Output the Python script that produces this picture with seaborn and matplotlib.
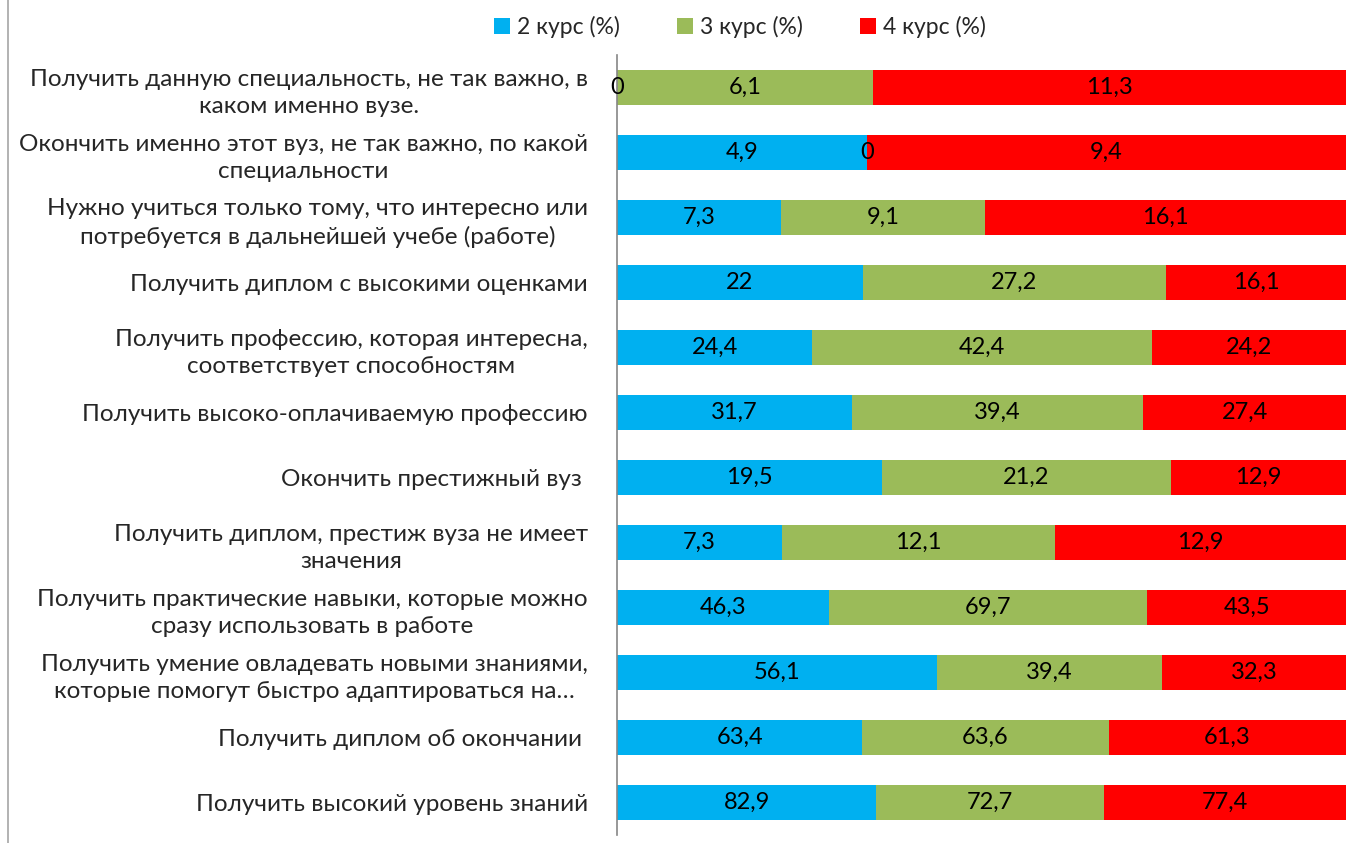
import numpy as np
import pandas as pd
import matplotlib
matplotlib.use("Agg")
import matplotlib.pyplot as plt
import seaborn as sns
from matplotlib.patches import Patch
from matplotlib.lines import Line2D

labels = [
    "Получить данную специальность, не так важно, в\nкаком именно вузе.",
    "Окончить именно этот вуз, не так важно, по какой\nспециальности",
    "Нужно учиться только тому, что интересно или\nпотребуется в дальнейшей учебе (работе)",
    "Получить диплом с высокими оценками",
    "Получить профессию, которая интересна,\nсоответствует способностям",
    "Получить высоко-оплачиваемую профессию",
    "Окончить престижный вуз ",
    "Получить диплом, престиж вуза не имеет\nзначения",
    "Получить практические навыки, которые можно\nсразу использовать в работе",
    "Получить умение овладевать новыми знаниями,\nкоторые помогут быстро адаптироваться на…",
    "Получить диплом об окончании ",
    "Получить высокий уровень знаний",
]
kurs2 = [0, 4.9, 7.3, 22, 24.4, 31.7, 19.5, 7.3, 46.3, 56.1, 63.4, 82.9]
kurs3 = [6.1, 0, 9.1, 27.2, 42.4, 39.4, 21.2, 12.1, 69.7, 39.4, 63.6, 72.7]
kurs4 = [11.3, 9.4, 16.1, 16.1, 24.2, 27.4, 12.9, 12.9, 43.5, 32.3, 61.3, 77.4]
series = ["2 курс (%)", "3 курс (%)", "4 курс (%)"]
colors = ["#00B0F0", "#9BBB59", "#FF0000"]

sns.set_style("white")
plt.rcParams["font.family"] = ["Lato", "DejaVu Sans"]

df = pd.DataFrame({"label": labels, "k2": kurs2, "k3": kurs3, "k4": kurs4})
tot = df[["k2", "k3", "k4"]].sum(axis=1)
df["s2"] = df["k2"] / tot * 100
df["s3"] = df["k3"] / tot * 100
df["s4"] = df["k4"] / tot * 100
df["c2"] = df["s2"]
df["c3"] = df["s2"] + df["s3"]
df["c4"] = df["c3"] + df["s4"]

fig = plt.figure(figsize=(13.46, 8.43), dpi=100)
ax = fig.add_axes([617 / 1346, 8 / 843, 729 / 1346, 780 / 843])

# stacked via overlapping cumulative bars
for col, c in [("c4", colors[2]), ("c3", colors[1]), ("c2", colors[0])]:
    sns.barplot(data=df, y="label", x=col, color=c, orient="h", width=0.54,
                saturation=1, ax=ax, edgecolor="none")

fmt = lambda v: f"{v:g}".replace(".", ",")
for i in range(len(df)):
    starts = [0, df["c2"][i], df["c3"][i]]
    widths = [df["s2"][i], df["s3"][i], df["s4"][i]]
    vals = [df["k2"][i], df["k3"][i], df["k4"][i]]
    for s, w, v in zip(starts, widths, vals):
        ax.text(s + w / 2, i, fmt(v), ha="center", va="center", fontsize=17, color="black")

ax.set_xlim(0, 100)
ax.set_xlabel("")
ax.set_ylabel("")
ax.set_xticks([])
ax.tick_params(axis="y", length=0, pad=21, labelsize=17.5)
for t in ax.get_yticklabels():
    t.set_multialignment("center")
    t.set_linespacing(1.4)
for s in ["top", "right", "bottom"]:
    ax.spines[s].set_visible(False)
ax.spines["left"].set_color("#868686")
ax.spines["left"].set_linewidth(1.2)

handles = [Patch(facecolor=c, edgecolor="none") for c in colors]
fig.legend(handles, series, loc="center", bbox_to_anchor=(740 / 1346, 1 - 27 / 843), ncol=3,
           frameon=False, fontsize=16.5, handlelength=0.7, handleheight=0.7,
           handletextpad=0.3, columnspacing=2.5)

fig.add_artist(Line2D([8 / 1346, 8 / 1346], [0, 1], color="#A6A6A6", lw=1.2))

fig.savefig("out.png", dpi=100)
